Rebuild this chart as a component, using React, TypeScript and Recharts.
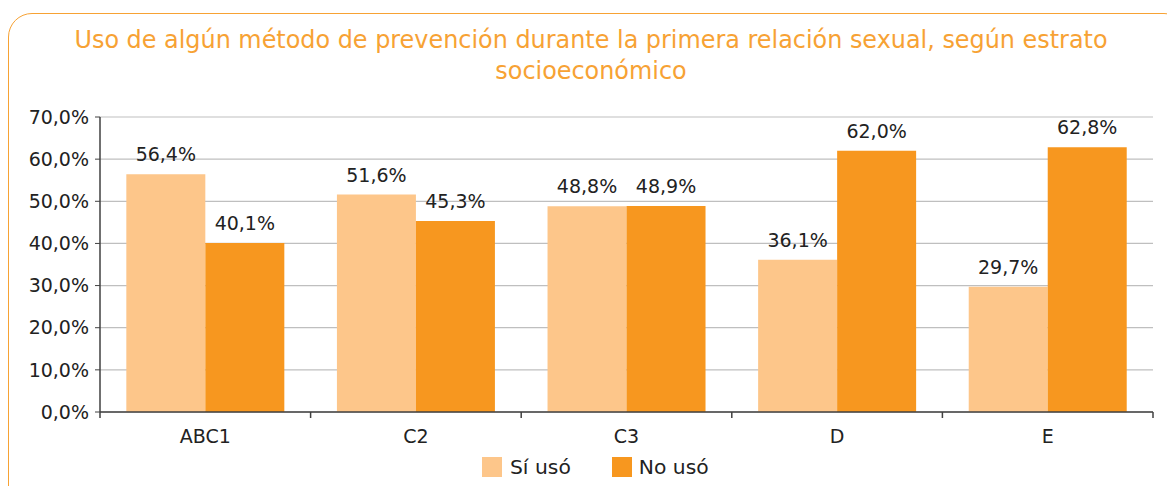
import React from "react";
import { BarChart, Bar, XAxis, YAxis, CartesianGrid, LabelList } from "recharts";

const categories = ["ABC1", "C2", "C3", "D", "E"];
const siUso = [56.4, 51.6, 48.8, 36.1, 29.7];
const noUso = [40.1, 45.3, 48.9, 62.0, 62.8];
const yTicks = [0, 10, 20, 30, 40, 50, 60, 70];
const seriesNames = ["Sí usó", "No usó"];
const titleText = "Uso de algún método de prevención durante la primera relación sexual, según estrato socioeconómico";

const data = categories.map((c, i) => ({ cat: c, si: siUso[i], no: noUso[i] }));

const LIGHT = "#FDC68A";
const DARK = "#F7971F";
const AXIS = "#404040";
const FONT = "'DejaVu Sans', sans-serif";

const fmt = (v: any) => `${Number(v).toFixed(1).replace(".", ",")}%`;

const CatTick = (props: any) => {
  const { x, y, payload, index, visibleTicksCount } = props;
  const half = payload && payload.offset != null ? payload.offset : 0;
  const tickLen = 6;
  const y0 = y - tickLen;
  const last = visibleTicksCount != null ? index === visibleTicksCount - 1 : index === categories.length - 1;
  return (
    <g>
      <line x1={x - half} x2={x - half} y1={y0} y2={y0 + tickLen} stroke={AXIS} strokeWidth={1.5} />
      {last && <line x1={x + half} x2={x + half} y1={y0} y2={y0 + tickLen} stroke={AXIS} strokeWidth={1.5} />}
      <text x={x} y={y0 + 31} textAnchor="middle" fill="#222" fontSize={19} fontFamily={FONT}>
        {payload.value}
      </text>
    </g>
  );
};

export default function App() {
  return (
    <div style={{ position: "absolute", left: 0, top: 0, width: 1167, height: 486, overflow: "hidden", background: "#fff", fontFamily: FONT }}>
      <div style={{ position: "absolute", left: 8, top: 13, width: 1180, height: 500, border: "1.5px solid #F7A234", borderRadius: 24, boxSizing: "border-box" }} />
      <div style={{ position: "absolute", left: 56, top: 25, width: 1070, textAlign: "center", color: "#F7A234", fontSize: 23.9, lineHeight: "31px" }}>
        {titleText}
      </div>
      <div style={{ position: "absolute", left: 0, top: 0 }}>
        <BarChart width={1167} height={486} data={data} margin={{ top: 117, right: 14, left: 0, bottom: 44 }} barCategoryGap="12.5%" barGap={0}>
          <CartesianGrid vertical={false} stroke="#BFBFBF" strokeWidth={1.2} />
          <XAxis dataKey="cat" height={30} axisLine={{ stroke: AXIS, strokeWidth: 1.5 }} tickLine={false} tickSize={6} tickMargin={0} tick={<CatTick />} interval={0} />
          <YAxis width={100} domain={[0, 70]} ticks={yTicks} tickFormatter={fmt} tickSize={5} tickMargin={6} axisLine={{ stroke: AXIS, strokeWidth: 1.5 }} tickLine={{ stroke: AXIS }} tick={{ fill: "#222", fontSize: 19, fontFamily: FONT }} interval={0} />
          <Bar dataKey="si" name={seriesNames[0]} fill={LIGHT} isAnimationActive={false}>
            <LabelList dataKey="si" position="top" offset={13} formatter={fmt} style={{ fill: "#222", fontSize: 19, fontFamily: FONT }} />
          </Bar>
          <Bar dataKey="no" name={seriesNames[1]} fill={DARK} isAnimationActive={false}>
            <LabelList dataKey="no" position="top" offset={13} formatter={fmt} style={{ fill: "#222", fontSize: 19, fontFamily: FONT }} />
          </Bar>
        </BarChart>
      </div>
      <div style={{ position: "absolute", left: 482, top: 455, display: "flex", alignItems: "center", fontSize: 20.3, color: "#222", lineHeight: "24px" }}>
        <span style={{ display: "inline-block", width: 20, height: 20, background: LIGHT, marginRight: 8 }} />
        <span style={{ marginRight: 41 }}>{seriesNames[0]}</span>
        <span style={{ display: "inline-block", width: 20, height: 20, background: DARK, marginRight: 7 }} />
        <span>{seriesNames[1]}</span>
      </div>
    </div>
  );
}
